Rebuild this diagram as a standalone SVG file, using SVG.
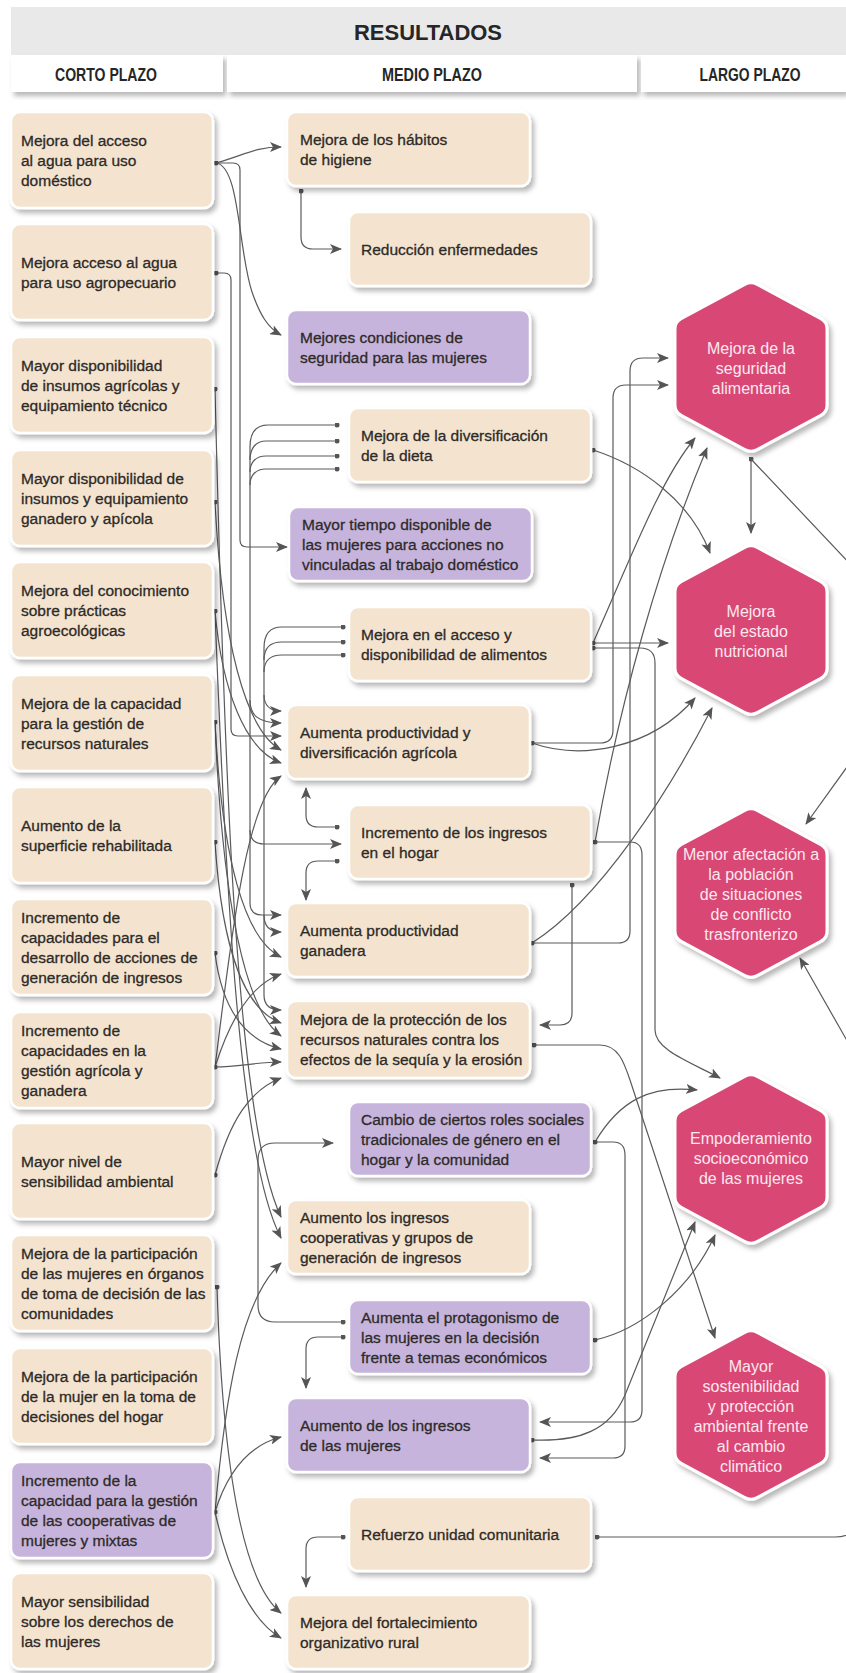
<svg xmlns="http://www.w3.org/2000/svg" width="846" height="1673" viewBox="0 0 846 1673">
<defs>
<filter id="sh" x="-10%" y="-10%" width="130%" height="130%"><feDropShadow dx="3" dy="4" stdDeviation="2.5" flood-color="#000" flood-opacity="0.28"/></filter>
<marker id="ah" viewBox="0 0 12 10" refX="11" refY="5" markerWidth="12" markerHeight="10" markerUnits="userSpaceOnUse" orient="auto"><path d="M0,0 L12,5 L0,10 L3,5 z" fill="#555"/></marker>
<marker id="dt" viewBox="0 0 6 6" refX="3" refY="3" markerWidth="5" markerHeight="5" markerUnits="userSpaceOnUse"><circle cx="3" cy="3" r="3" fill="#555"/></marker>
<path id="hex" d="M-6.16,-82.68 Q0,-86 6.16,-82.68 L69.84,-48.32 Q76,-45 76,-38 L76,38 Q76,45 69.84,48.32 L6.16,82.68 Q0,86 -6.16,82.68 L-69.84,48.32 Q-76,45 -76,38 L-76,-38 Q-76,-45 -69.84,-48.32 Z"/>
<style>
.b{fill:#F4E4CF;stroke:#fff;stroke-width:2.5;filter:url(#sh)}
.p{fill:#C6B4DC;stroke:#fff;stroke-width:2.5;filter:url(#sh)}
.hx{fill:#D94775;stroke:#fff;stroke-width:3;stroke-linejoin:round;filter:url(#sh)}
.t{font-family:"Liberation Sans",Arial,sans-serif;font-size:15.5px;fill:#2e2a28;stroke:#2e2a28;stroke-width:0.3}
.ht{font-family:"Liberation Sans",Arial,sans-serif;font-size:16px;fill:#FBE9EF;text-anchor:middle}
.hd{font-family:"Liberation Sans",Arial,sans-serif;font-weight:bold;fill:#262626;text-anchor:middle}
.c{fill:none;stroke:#5a5a5a;stroke-width:1.2}
.c path{marker-end:url(#ah)}
.c path.n{marker-end:none}
.c path.d{marker-start:url(#dt)}
.c path.dn{marker-start:url(#dt);marker-end:none}
</style>
</defs>
<rect width="846" height="1673" fill="#fff"/>
<g id="header">
<rect x="11" y="7" width="835" height="48" fill="#E9E9E9"/>
<text class="hd" x="428" y="40" font-size="22" textLength="148" lengthAdjust="spacingAndGlyphs">RESULTADOS</text>
<rect x="11" y="55" width="212" height="37" fill="#fff" filter="url(#sh)"/>
<rect x="227" y="55" width="410" height="37" fill="#fff" filter="url(#sh)"/>
<rect x="641" y="55" width="205" height="37" fill="#fff" filter="url(#sh)"/>
<text class="hd" x="106" y="81" font-size="18" textLength="102" lengthAdjust="spacingAndGlyphs">CORTO PLAZO</text>
<text class="hd" x="432" y="81" font-size="18" textLength="100" lengthAdjust="spacingAndGlyphs">MEDIO PLAZO</text>
<text class="hd" x="750" y="81" font-size="18" textLength="101" lengthAdjust="spacingAndGlyphs">LARGO PLAZO</text>
</g>

<g id="connectors" class="c">
<!-- left to medio -->
<path class="d" d="M216,163 C245,155 255,147 281,147"/>
<path d="M216,163 C240,166 238,250 252,292 C260,315 268,328 281,335"/>
<path d="M216,163 H233 Q240,163 240,170 V540 Q240,547 247,547 H287"/>
<path class="d" d="M216,273 H224 Q231,273 231,280 V729 Q231,736 238,736 H281"/>
<path class="dn" d="M337,425 H268 C256,425 250,433 250,447"/>
<path class="dn" d="M337,441 H266 C256,441 250,448 250,460"/>
<path class="dn" d="M337,456 H266 C256,456 250,462 250,472"/>
<path class="dn" d="M337,469 H266 C256,469 250,475 250,485"/>
<path d="M250,447 V830 Q250,844 264,844 H341"/>
<path d="M250,700 C250,715 258,723 281,723"/>
<path d="M250,830 V903 Q250,915 262,915 H281"/>
<path class="dn" d="M343,627 H282 C270,627 264,634 264,648"/>
<path class="dn" d="M343,642 H282 C270,642 264,648 264,660"/>
<path class="dn" d="M343,655 H282 C270,655 264,661 264,672"/>
<path d="M264,648 V995 C264,1005 270,1010 281,1010"/>
<path d="M264,695 C264,705 270,711 281,711"/>
<path d="M264,915 C264,926 270,932 281,932"/>
<path class="d" d="M215,389 C224,760 235,1120 281,1217"/>
<path class="d" d="M215,502 C222,640 245,730 281,750"/>
<path class="d" d="M215,611 C222,690 245,750 281,763"/>
<path d="M215,611 C226,900 240,1160 281,1238"/>
<path class="d" d="M215,722 C222,860 245,940 281,957"/>
<path d="M215,722 C222,900 245,1010 281,1036"/>
<path class="d" d="M215,842 C222,950 245,1010 281,1023"/>
<path class="d" d="M215,953 C222,1010 245,1040 281,1049"/>
<path class="d" d="M215,1067 C230,950 245,800 281,776"/>
<path d="M215,1067 C230,1020 250,985 281,974"/>
<path d="M215,1067 C240,1067 255,1062 281,1062"/>
<path class="d" d="M215,1175 C230,1120 250,1090 281,1078"/>
<path class="d" d="M217,1287 C222,1450 240,1580 281,1613"/>
<path class="d" d="M215,1512 C225,1400 240,1300 281,1263"/>
<path d="M215,1512 C228,1470 250,1445 281,1437"/>
<path d="M215,1512 C228,1570 250,1620 281,1638"/>
<!-- within medio -->
<path class="d" d="M301,191 V237 Q301,249 313,249 H341"/>
<path class="d" d="M337,827 H318 Q306,827 306,815 V788"/>
<path class="d" d="M337,861 H318 Q306,861 306,873 V900"/>
<path class="d" d="M343,1322 H275 Q258,1322 258,1305 V1160 Q258,1143 275,1143 H333"/>
<path class="d" d="M343,1337 H318 Q306,1337 306,1349 V1388"/>
<path class="d" d="M343,1537 H318 Q306,1537 306,1549 V1587"/>
<!-- medio to largo -->
<path class="d" d="M593,450 C640,465 690,500 710,553"/>
<path class="d" d="M751,459 V533"/>
<path d="M751,459 L870,585 V735 L806,824"/>
<path class="d" d="M593,643 H668"/>
<path d="M593,643 C630,560 660,480 695,438"/>
<path class="d" d="M593,648 H640 Q655,648 655,663 V1030 C655,1050 690,1062 720,1078"/>
<path class="d" d="M532,743 H600 Q613,743 613,730 V398 Q613,385 626,385 H668"/>
<path d="M532,743 C580,760 650,750 695,698"/>
<path class="d" d="M595,842 C620,700 660,560 707,448"/>
<path d="M595,842 H630 Q642,842 642,855 V1410 Q642,1422 630,1422 H540"/>
<path class="d" d="M572,885 V1013 Q572,1025 560,1025 H540"/>
<path class="d" d="M532,943 H618 Q630,943 630,931 V371 Q630,358 643,358 H668"/>
<path d="M532,943 C600,900 670,790 712,708"/>
<path class="d" d="M534,1045 H600 C618,1045 624,1062 630,1080 L715,1338"/>
<path class="d" d="M595,1142 C620,1100 650,1085 697,1090"/>
<path d="M595,1142 H613 Q625,1142 625,1155 V1446 Q625,1458 613,1458 H540"/>
<path class="d" d="M595,1340 C640,1330 690,1290 715,1235"/>
<path class="d" d="M532,1440 C580,1442 610,1430 625,1395 L695,1222"/>
<path class="d" d="M597,1537 H835 Q858,1537 858,1515 V1060 L800,958"/>
</g>

<g id="corto">
<g id="c1"><rect class="b" x="11" y="112" width="202" height="96" rx="9"/><text class="t" x="21" y="146">Mejora del acceso</text><text class="t" x="21" y="166">al agua para uso</text><text class="t" x="21" y="186">doméstico</text></g>
<g id="c2"><rect class="b" x="11" y="224" width="202" height="96" rx="9"/><text class="t" x="21" y="268">Mejora acceso al agua</text><text class="t" x="21" y="288">para uso agropecuario</text></g>
<g id="c3"><rect class="b" x="11" y="337" width="202" height="96" rx="9"/><text class="t" x="21" y="371">Mayor disponibilidad</text><text class="t" x="21" y="391">de insumos agrícolas y</text><text class="t" x="21" y="411">equipamiento técnico</text></g>
<g id="c4"><rect class="b" x="11" y="450" width="202" height="96" rx="9"/><text class="t" x="21" y="484">Mayor disponibilidad de</text><text class="t" x="21" y="504">insumos y equipamiento</text><text class="t" x="21" y="524">ganadero y apícola</text></g>
<g id="c5"><rect class="b" x="11" y="562" width="202" height="96" rx="9"/><text class="t" x="21" y="596">Mejora del conocimiento</text><text class="t" x="21" y="616">sobre prácticas</text><text class="t" x="21" y="636">agroecológicas</text></g>
<g id="c6"><rect class="b" x="11" y="675" width="202" height="96" rx="9"/><text class="t" x="21" y="709">Mejora de la capacidad</text><text class="t" x="21" y="729">para la gestión de</text><text class="t" x="21" y="749">recursos naturales</text></g>
<g id="c7"><rect class="b" x="11" y="787" width="202" height="96" rx="9"/><text class="t" x="21" y="831">Aumento de la</text><text class="t" x="21" y="851">superficie rehabilitada</text></g>
<g id="c8"><rect class="b" x="11" y="899" width="202" height="96" rx="9"/><text class="t" x="21" y="923">Incremento de</text><text class="t" x="21" y="943">capacidades para el</text><text class="t" x="21" y="963">desarrollo de acciones de</text><text class="t" x="21" y="983">generación de ingresos</text></g>
<g id="c9"><rect class="b" x="11" y="1012" width="202" height="96" rx="9"/><text class="t" x="21" y="1036">Incremento de</text><text class="t" x="21" y="1056">capacidades en la</text><text class="t" x="21" y="1076">gestión agrícola y</text><text class="t" x="21" y="1096">ganadera</text></g>
<g id="c10"><rect class="b" x="11" y="1123" width="202" height="96" rx="9"/><text class="t" x="21" y="1167">Mayor nivel de</text><text class="t" x="21" y="1187">sensibilidad ambiental</text></g>
<g id="c11"><rect class="b" x="11" y="1235" width="202" height="96" rx="9"/><text class="t" x="21" y="1259">Mejora de la participación</text><text class="t" x="21" y="1279">de las mujeres en órganos</text><text class="t" x="21" y="1299">de toma de decisión de las</text><text class="t" x="21" y="1319">comunidades</text></g>
<g id="c12"><rect class="b" x="11" y="1348" width="202" height="96" rx="9"/><text class="t" x="21" y="1382">Mejora de la participación</text><text class="t" x="21" y="1402">de la mujer en la toma de</text><text class="t" x="21" y="1422">decisiones del hogar</text></g>
<g id="c13"><rect class="p" x="11" y="1462" width="202" height="96" rx="9"/><text class="t" x="21" y="1486">Incremento de la</text><text class="t" x="21" y="1506">capacidad para la gestión</text><text class="t" x="21" y="1526">de las cooperativas de</text><text class="t" x="21" y="1546">mujeres y mixtas</text></g>
<g id="c14"><rect class="b" x="11" y="1573" width="202" height="96" rx="9"/><text class="t" x="21" y="1607">Mayor sensibilidad</text><text class="t" x="21" y="1627">sobre los derechos de</text><text class="t" x="21" y="1647">las mujeres</text></g>
</g>

<g id="medio">
<g id="m1"><rect class="b" x="287" y="112" width="243" height="74" rx="9"/><text class="t" x="300" y="145">Mejora de los hábitos</text><text class="t" x="300" y="165">de higiene</text></g>
<g id="m2"><rect class="b" x="349" y="212" width="242" height="74" rx="9"/><text class="t" x="361" y="255">Reducción enfermedades</text></g>
<g id="m3"><rect class="p" x="287" y="310" width="243" height="74" rx="9"/><text class="t" x="300" y="343">Mejores condiciones de</text><text class="t" x="300" y="363">seguridad para las mujeres</text></g>
<g id="m4"><rect class="b" x="349" y="408" width="242" height="74" rx="9"/><text class="t" x="361" y="441">Mejora de la diversificación</text><text class="t" x="361" y="461">de la dieta</text></g>
<g id="m5"><rect class="p" x="289" y="507" width="243" height="74" rx="9"/><text class="t" x="302" y="530">Mayor tiempo disponible de</text><text class="t" x="302" y="550">las mujeres para acciones no</text><text class="t" x="302" y="570">vinculadas al trabajo doméstico</text></g>
<g id="m6"><rect class="b" x="349" y="607" width="242" height="74" rx="9"/><text class="t" x="361" y="640">Mejora en el acceso y</text><text class="t" x="361" y="660">disponibilidad de alimentos</text></g>
<g id="m7"><rect class="b" x="287" y="705" width="243" height="74" rx="9"/><text class="t" x="300" y="738">Aumenta productividad y</text><text class="t" x="300" y="758">diversificación agrícola</text></g>
<g id="m8"><rect class="b" x="349" y="805" width="242" height="74" rx="9"/><text class="t" x="361" y="838">Incremento de los ingresos</text><text class="t" x="361" y="858">en el hogar</text></g>
<g id="m9"><rect class="b" x="287" y="903" width="243" height="74" rx="9"/><text class="t" x="300" y="936">Aumenta productividad</text><text class="t" x="300" y="956">ganadera</text></g>
<g id="m10"><rect class="b" x="287" y="1001" width="243" height="77" rx="9"/><text class="t" x="300" y="1025">Mejora de la protección de los</text><text class="t" x="300" y="1045">recursos naturales contra los</text><text class="t" x="300" y="1065">efectos de la sequía y la erosión</text></g>
<g id="m11"><rect class="p" x="349" y="1102" width="242" height="74" rx="9"/><text class="t" x="361" y="1125">Cambio de ciertos roles sociales</text><text class="t" x="361" y="1145">tradicionales de género en el</text><text class="t" x="361" y="1165">hogar y la comunidad</text></g>
<g id="m12"><rect class="b" x="287" y="1200" width="243" height="74" rx="9"/><text class="t" x="300" y="1223">Aumento los ingresos</text><text class="t" x="300" y="1243">cooperativas y grupos de</text><text class="t" x="300" y="1263">generación de ingresos</text></g>
<g id="m13"><rect class="p" x="349" y="1300" width="242" height="74" rx="9"/><text class="t" x="361" y="1323">Aumenta el protagonismo de</text><text class="t" x="361" y="1343">las mujeres en la decisión</text><text class="t" x="361" y="1363">frente a temas económicos</text></g>
<g id="m14"><rect class="p" x="287" y="1398" width="243" height="74" rx="9"/><text class="t" x="300" y="1431">Aumento de los ingresos</text><text class="t" x="300" y="1451">de las mujeres</text></g>
<g id="m15"><rect class="b" x="349" y="1497" width="242" height="74" rx="9"/><text class="t" x="361" y="1540">Refuerzo unidad comunitaria</text></g>
<g id="m16"><rect class="b" x="287" y="1595" width="243" height="74" rx="9"/><text class="t" x="300" y="1628">Mejora del fortalecimiento</text><text class="t" x="300" y="1648">organizativo rural</text></g>
</g>

<g id="largo">
<g id="h1"><use href="#hex" class="hx" x="751" y="367"/><text class="ht" x="751" y="354">Mejora de la</text><text class="ht" x="751" y="374">seguridad</text><text class="ht" x="751" y="394">alimentaria</text></g>
<g id="h2"><use href="#hex" class="hx" x="751" y="630"/><text class="ht" x="751" y="617">Mejora</text><text class="ht" x="751" y="637">del estado</text><text class="ht" x="751" y="657">nutricional</text></g>
<g id="h3"><use href="#hex" class="hx" x="751" y="893"/><text class="ht" x="751" y="860">Menor afectación a</text><text class="ht" x="751" y="880">la población</text><text class="ht" x="751" y="900">de situaciones</text><text class="ht" x="751" y="920">de conflicto</text><text class="ht" x="751" y="940">trasfronterizo</text></g>
<g id="h4"><use href="#hex" class="hx" x="751" y="1159"/><text class="ht" x="751" y="1144">Empoderamiento</text><text class="ht" x="751" y="1164">socioeconómico</text><text class="ht" x="751" y="1184">de las mujeres</text></g>
<g id="h5"><use href="#hex" class="hx" x="751" y="1415"/><text class="ht" x="751" y="1372">Mayor</text><text class="ht" x="751" y="1392">sostenibilidad</text><text class="ht" x="751" y="1412">y protección</text><text class="ht" x="751" y="1432">ambiental frente</text><text class="ht" x="751" y="1452">al cambio</text><text class="ht" x="751" y="1472">climático</text></g>
</g>
</svg>
